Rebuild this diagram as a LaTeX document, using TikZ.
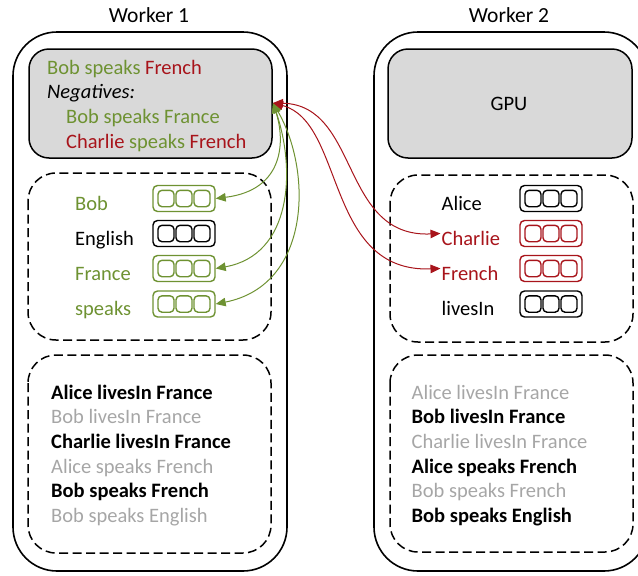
\documentclass[tikz,border=0pt]{standalone}
\usepackage{fontspec}
\setmainfont{Carlito}
\usetikzlibrary{arrows.meta,calc}
\definecolor{olive}{HTML}{6E9232}
\definecolor{darkred}{HTML}{A8141B}
\definecolor{panelgrey}{HTML}{D9D9D9}
\definecolor{softgrey}{HTML}{A6A6A6}
\tikzset{
  worker/.style={draw=black, line width=1.6pt, rounded corners=44pt},
  panel/.style={draw=black, fill=panelgrey, line width=1.5pt, rounded corners=20pt},
  dashbox/.style={draw=black, line width=1.5pt, dash pattern=on 9pt off 4.5pt, rounded corners=28pt},
  txt/.style={font=\fontsize{20.5}{24}\selectfont, inner sep=0pt, anchor=base west},
  boldtxt/.style={txt, font=\fontsize{20.5}{24}\selectfont\bfseries},
  title/.style={font=\fontsize{21.5}{24}\selectfont, inner sep=0pt},
  vec/.style={draw=#1, line width=1.4pt, rounded corners=4.5pt, minimum width=62pt, minimum height=26pt, inner sep=0pt},
  cell/.style={draw=#1, line width=1.4pt, rounded corners=4pt},
  link/.style={draw=#1, line width=1pt, {Triangle[length=10pt,width=8.5pt]}-{Triangle[length=10pt,width=8.5pt]}},
}
% three-cell embedding vector at a given centre
\newcommand{\embvec}[3]{%
  \node[vec=#3] (#1) at #2 {};
  \foreach \dx in {-18,0,18}{
    \draw[cell=#3] ($(#1.center)+(\dx-8,-8.2)$) rectangle ($(#1.center)+(\dx+8,8.2)$);
  }
}
\begin{document}
\begin{tikzpicture}[x=1pt, y=-1pt]
\useasboundingbox (0,0) rectangle (638,576);
\clip (0,0) rectangle (638,576);

% titles
\node[title] (t1) at (149,15) {Worker 1};
\node[title] (t2) at (509,15) {Worker 2};

% worker frames
\draw[worker] (13,32) rectangle (287,571);
\draw[worker] (374,32) rectangle (648,571);

% grey panels
\draw[panel] (29,49) rectangle (272,158);
\coordinate (q) at (273,103);
\draw[panel] (388,49) rectangle (632,158);
\node[title, font=\fontsize{20.5}{24}\selectfont] (gpu) at (509,104) {GPU};

% query and negatives
\node[txt] (l1) at (47,74) {\textcolor{olive}{Bob speaks} \textcolor{darkred}{French}};
\node[txt] (l2) at (47,98.5) {\textit{Negatives:}};
\node[txt] (l3) at (66,123) {\textcolor{olive}{Bob speaks France}};
\node[txt] (l4) at (66,148) {\textcolor{darkred}{Charlie} \textcolor{olive}{speaks} \textcolor{darkred}{French}};

% embedding tables
\draw[dashbox] (28,173) rectangle (271,340);
\draw[dashbox] (390,175) rectangle (633,342);

\node[txt, text=olive] (wbob) at (75,210) {Bob};
\node[txt] (weng) at (75,245) {English};
\node[txt, text=olive] (wfra) at (75,280) {France};
\node[txt, text=olive] (wspk) at (75,315) {speaks};
\embvec{vbob}{(184,198.5)}{olive}
\embvec{veng}{(184,233.5)}{black}
\embvec{vfra}{(184,268.5)}{olive}
\embvec{vspk}{(184,304)}{olive}

\node[txt] (wali) at (441.5,210) {Alice};
\node[txt, text=darkred] (wcha) at (441.5,245) {Charlie};
\node[txt, text=darkred] (wfre) at (441.5,280) {French};
\node[txt] (wliv) at (441.5,315) {livesIn};
\embvec{vali}{(551,198.5)}{black}
\embvec{vcha}{(551,233.5)}{darkred}
\embvec{vfre}{(551,268.5)}{darkred}
\embvec{vliv}{(551,304)}{black}

% training triples
\draw[dashbox] (28,355) rectangle (271,553);
\draw[dashbox] (390,355) rectangle (633,552);

\node[boldtxt] (a1) at (51,399) {Alice livesIn France};
\node[txt, text=softgrey] (a2) at (51,423.7) {Bob livesIn France};
\node[boldtxt] (a3) at (51,448.4) {Charlie livesIn France};
\node[txt, text=softgrey] (a4) at (51,473.1) {Alice speaks French};
\node[boldtxt] (a5) at (51,497.8) {Bob speaks French};
\node[txt, text=softgrey] (a6) at (51,522.5) {Bob speaks English};

\node[txt, text=softgrey] (b1) at (411.5,399) {Alice livesIn France};
\node[boldtxt] (b2) at (411.5,423.7) {Bob livesIn France};
\node[txt, text=softgrey] (b3) at (411.5,448.4) {Charlie livesIn France};
\node[boldtxt] (b4) at (411.5,473.1) {Alice speaks French};
\node[txt, text=softgrey] (b5) at (411.5,497.8) {Bob speaks French};
\node[boldtxt] (b6) at (411.5,522.5) {Bob speaks English};

% parameter exchange
\draw[link=olive] (q) .. controls (285,140) and (285,190) .. (vbob.east);
\draw[link=olive] (q) .. controls (296,170) and (292,255) .. (vfra.east);
\draw[link=olive] (q) .. controls (312,170) and (312,285) .. (vspk.east);
\draw[link=darkred] (q) .. controls (360,105) and (340,238) .. ([xshift=-1pt]wcha.west |- vcha.center);
\draw[link=darkred] (q) .. controls (345,122) and (325,273) .. ([xshift=-1pt]wfre.west |- vfre.center);
\end{tikzpicture}
\end{document}
